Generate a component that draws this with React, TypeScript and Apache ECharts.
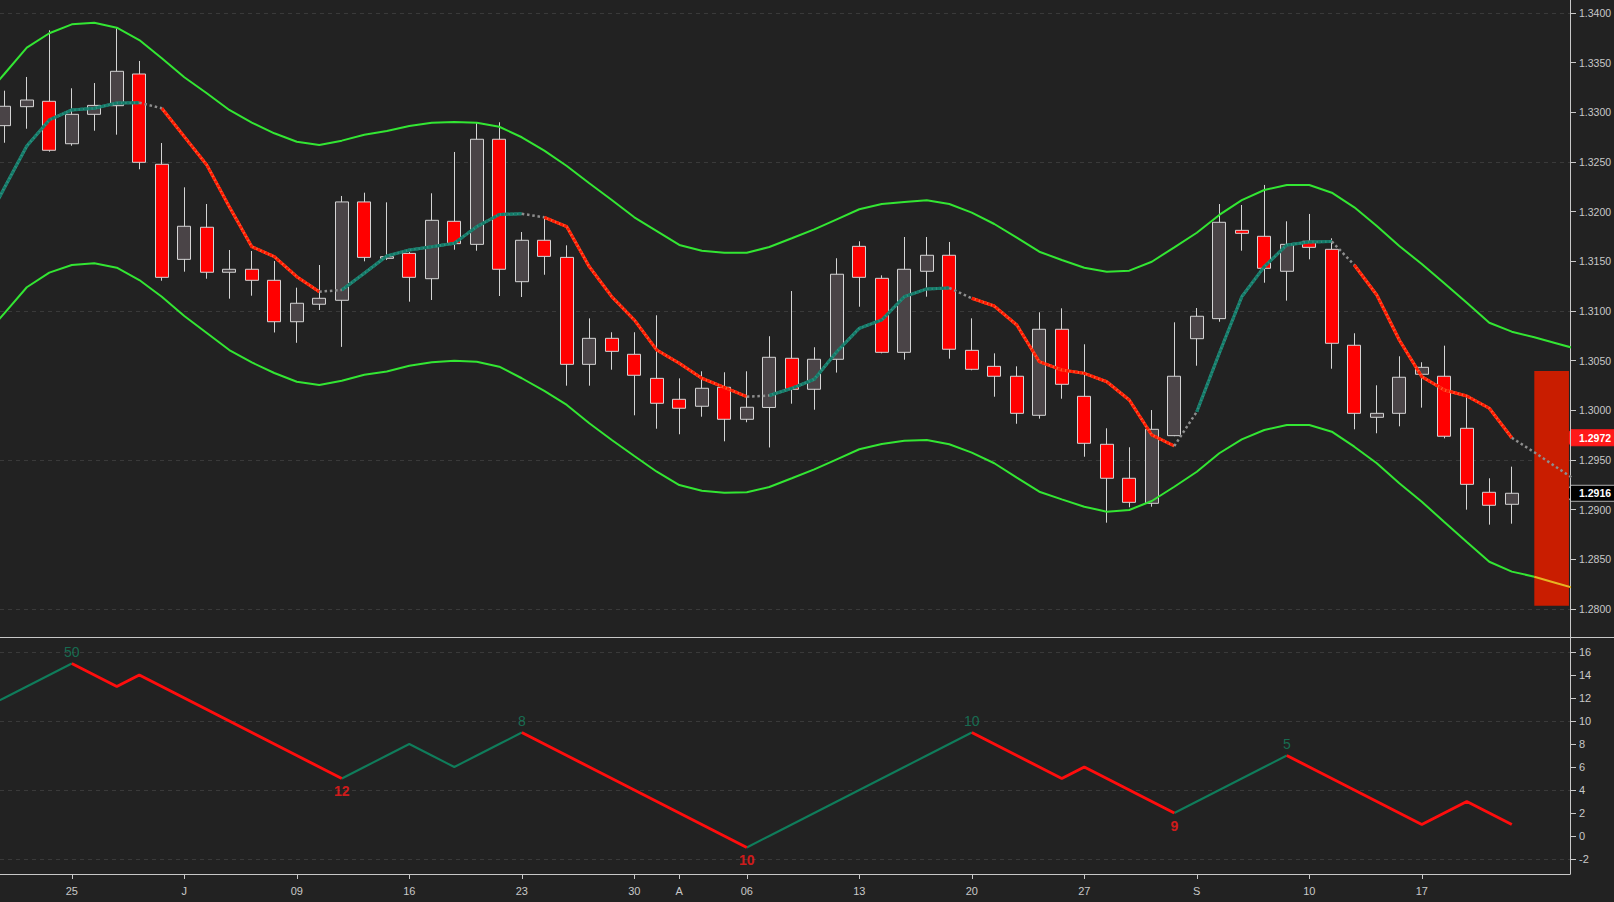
import React, { useEffect, useRef } from 'react';
import * as echarts from 'echarts';

const W = 1614;
const H = 902;
const BG = '#222222';
const AXIS = '#c8c8c8';
const TXT = '#c8c8c8';
const FONT = '"Liberation Sans", Arial, sans-serif';

// x-axis ticks (bar index -> label)
const tickBars = [3, 8, 13, 18, 23, 28, 30, 33, 38, 43, 48, 53, 58, 63];
const tickLabels = ['25', 'J', '09', '16', '23', '30', 'A', '06', '13', '20', '27', 'S', '10', '17'];

const priceTicks = [1.28, 1.285, 1.29, 1.295, 1.3, 1.305, 1.31, 1.315, 1.32, 1.325, 1.33, 1.335, 1.34];
const priceGridLines = [1.28, 1.295, 1.31, 1.325, 1.34];
const countTicks = [-2, 0, 2, 4, 6, 8, 10, 12, 14, 16];
const countGridLines = [-2, 4, 10, 16];

// daily candles, bars 0..67: [open, close, low, high]
const candles = [
  [1.32866, 1.33061, 1.32694, 1.33218],
  [1.33057, 1.33124, 1.32835, 1.33356],
  [1.33111, 1.32618, 1.32604, 1.33826],
  [1.32684, 1.3298, 1.32664, 1.33242],
  [1.3298, 1.3307, 1.32815, 1.33295],
  [1.33067, 1.33413, 1.32775, 1.33846],
  [1.33386, 1.32497, 1.32427, 1.33517],
  [1.32477, 1.31339, 1.31305, 1.32691],
  [1.3152, 1.31853, 1.31396, 1.32245],
  [1.31843, 1.3139, 1.31325, 1.32077],
  [1.3139, 1.3142, 1.31124, 1.31614],
  [1.3142, 1.31309, 1.31154, 1.31604],
  [1.31309, 1.30892, 1.30784, 1.31503],
  [1.30892, 1.31078, 1.3068, 1.31235],
  [1.31068, 1.31128, 1.3101, 1.31463],
  [1.31108, 1.32098, 1.30639, 1.32158],
  [1.32098, 1.3154, 1.315, 1.32191],
  [1.3153, 1.31547, 1.31513, 1.32094],
  [1.3158, 1.31339, 1.31094, 1.31594],
  [1.31325, 1.31913, 1.31111, 1.32185],
  [1.31903, 1.31678, 1.31617, 1.32601],
  [1.31671, 1.32729, 1.31607, 1.3289],
  [1.32729, 1.3142, 1.31151, 1.329],
  [1.31295, 1.31712, 1.31141, 1.31795],
  [1.31712, 1.3155, 1.31365, 1.31933],
  [1.3154, 1.30463, 1.30248, 1.31661],
  [1.30463, 1.30725, 1.30248, 1.30926],
  [1.30725, 1.30594, 1.30409, 1.30786],
  [1.30564, 1.30353, 1.2995, 1.30786],
  [1.30322, 1.30071, 1.29815, 1.30957],
  [1.30111, 1.30021, 1.29759, 1.30322],
  [1.30041, 1.30222, 1.29936, 1.30393],
  [1.30232, 1.2991, 1.29688, 1.30383],
  [1.2991, 1.30031, 1.2988, 1.30393],
  [1.30029, 1.30534, 1.29626, 1.30746],
  [1.30524, 1.30212, 1.30067, 1.31201],
  [1.30212, 1.30514, 1.30006, 1.30635],
  [1.30514, 1.3137, 1.3038, 1.31531],
  [1.31651, 1.31339, 1.31043, 1.31702],
  [1.31329, 1.30584, 1.30574, 1.31359],
  [1.30584, 1.3142, 1.3051, 1.31745],
  [1.314, 1.31561, 1.31144, 1.31745],
  [1.31561, 1.30615, 1.3052, 1.31695],
  [1.30604, 1.30413, 1.30403, 1.30926],
  [1.30443, 1.30343, 1.30137, 1.30574],
  [1.30343, 1.2997, 1.29865, 1.30443],
  [1.2995, 1.30816, 1.29916, 1.30987],
  [1.30816, 1.30262, 1.30117, 1.31027],
  [1.30141, 1.29668, 1.29533, 1.30665],
  [1.29658, 1.29316, 1.28869, 1.29819],
  [1.29316, 1.29074, 1.29024, 1.29628],
  [1.29064, 1.29809, 1.2903, 1.30003],
  [1.29745, 1.30343, 1.2974, 1.30886],
  [1.30721, 1.30947, 1.30449, 1.3103],
  [1.30923, 1.31893, 1.30892, 1.32077],
  [1.31812, 1.31782, 1.31607, 1.32067],
  [1.31752, 1.3143, 1.31285, 1.32269],
  [1.314, 1.31671, 1.31104, 1.31903],
  [1.31702, 1.31641, 1.3152, 1.31977],
  [1.31621, 1.30675, 1.30419, 1.31732],
  [1.30655, 1.2997, 1.29809, 1.30776],
  [1.2993, 1.2997, 1.29769, 1.30252],
  [1.2997, 1.30333, 1.29839, 1.30544],
  [1.30363, 1.30433, 1.30027, 1.30484],
  [1.30343, 1.29739, 1.29718, 1.30651],
  [1.29819, 1.29255, 1.29, 1.30131],
  [1.29175, 1.29044, 1.28849, 1.29316],
  [1.29054, 1.29165, 1.28859, 1.29433],
];
const LAST_BAR = 67;

// band / middle line values, bars -1..70 (68..70 projected)
const BAND_START = -1;
const upperBand = [
  1.33124, 1.33386, 1.33651, 1.33796, 1.33886, 1.33902, 1.33852, 1.33728, 1.33544, 1.33353,
  1.33192, 1.33024, 1.32896, 1.32789, 1.32704, 1.32671, 1.32715, 1.32775, 1.32812, 1.32862,
  1.32896, 1.32903, 1.32896, 1.32855, 1.32749, 1.32614, 1.3246, 1.32286, 1.32117, 1.31943,
  1.31805, 1.31665, 1.31607, 1.31587, 1.31587, 1.31644, 1.31732, 1.31822, 1.31923, 1.32024,
  1.32077, 1.32097, 1.32114, 1.32077, 1.3199, 1.31876, 1.31738, 1.31597, 1.31513, 1.31436,
  1.31396, 1.31406, 1.31496, 1.31641, 1.31788, 1.31967, 1.32117, 1.32218, 1.32268, 1.32268,
  1.32191, 1.32044, 1.31856, 1.31654, 1.31473, 1.31279, 1.31084, 1.30882, 1.30792, 1.30735,
  1.30673, 1.30611,
];
const lowerBand = [
  1.30718, 1.30977, 1.31239, 1.31386, 1.31463, 1.3148, 1.31436, 1.31312, 1.31144, 1.3095,
  1.30779, 1.30607, 1.30482, 1.30376, 1.30288, 1.30255, 1.30298, 1.30359, 1.30391, 1.30449,
  1.30484, 1.305, 1.3049, 1.30439, 1.30323, 1.30195, 1.30054, 1.2987, 1.29701, 1.2954,
  1.29382, 1.29248, 1.29191, 1.29171, 1.29175, 1.29228, 1.29316, 1.29406, 1.29507, 1.29608,
  1.29661, 1.29694, 1.29701, 1.29658, 1.29574, 1.29467, 1.29322, 1.29181, 1.29104, 1.2903,
  1.2898, 1.28997, 1.29087, 1.29231, 1.29382, 1.29568, 1.29708, 1.29802, 1.29852, 1.29852,
  1.29785, 1.29634, 1.29467, 1.29265, 1.2908, 1.28876, 1.28675, 1.28476, 1.28376, 1.28325,
  1.2826, 1.28195,
];
const midLine = [
  1.31805, 1.32238, 1.32661, 1.32923, 1.33024, 1.33041, 1.33094, 1.33097, 1.33041, 1.32755,
  1.3247, 1.3205, 1.31647, 1.31547, 1.31345, 1.31194, 1.31212, 1.3138, 1.31554, 1.31614,
  1.31647, 1.31682, 1.31849, 1.31972, 1.31979, 1.31943, 1.31849, 1.31446, 1.31144, 1.3091,
  1.30607, 1.30474, 1.30323, 1.30232, 1.30137, 1.30149, 1.30222, 1.30313, 1.3059, 1.30826,
  1.3091, 1.31144, 1.31222, 1.31232, 1.31128, 1.3105, 1.30859, 1.3049, 1.30406, 1.30373,
  1.30288, 1.30104, 1.29752, 1.29641, 1.29986, 1.30574, 1.31144, 1.31446, 1.31665, 1.31695,
  1.317, 1.31463, 1.31161, 1.30708, 1.30339, 1.30205, 1.30144, 1.30021, 1.29724, 1.29578,
  1.29425, 1.29272,
];
const LAST_PROJ_BAR = 70;

// projected range box
const rangeFromBar = 68;
const rangeToBar = 69.54;
const rangeTop = 1.30396;
const rangeBottom = 1.28033;

// lower panel: swing counter, bars -1..67
const COUNT_START = -1;
const swingCount = [
  11, 12, 13, 14, 15, 14, 13, 14, 13, 12, 11, 10, 9, 8, 7, 6, 5, 6, 7, 8, 7, 6, 7, 8, 9, 8, 7, 6, 5,
  4, 3, 2, 1, 0, -1, 0, 1, 2, 3, 4, 5, 6, 7, 8, 9, 8, 7, 6, 5, 6, 5, 4, 3, 2, 3, 4, 5, 6, 7, 6, 5,
  4, 3, 2, 1, 2, 3, 2, 1,
];
const swingPivots = [-1, 3, 15, 23, 33, 43, 52, 57, 67];
const peakBars = [3, 23, 43, 57];
const peakLabels = ['50', '8', '10', '5'];
const troughBars = [15, 33, 52];
const troughLabels = ['12', '10', '9'];

// axis ranges
const X_MIN = -0.191;
const X_MAX = 69.587;
const P_MIN = 1.277181;
const P_MAX = 1.341309;
const C_MIN = -3.304;
const C_MAX = 17.304;

const GREEN = '#33e633';
const TEAL = '#137a68';
const TEAL_BASE = '#2f8f7f';
const RED = '#ff1800';
const RED_BASE = '#ff5a30';
const GREY = '#8e8e8e';

function buildOption() {
  const n = midLine.length;
  const barAt = (k: number) => BAND_START + k;
  const dirs = midLine.map((v, k) =>
    k === 0 ? (midLine[1] >= midLine[0] ? 1 : -1) : v >= midLine[k - 1] ? 1 : -1
  );
  const segKind: string[] = [];
  for (let k = 0; k < n - 1; k++) {
    if (barAt(k + 1) > LAST_BAR) segKind.push('grey');
    else if (dirs[k] === dirs[k + 1]) segKind.push(dirs[k] > 0 ? 'up' : 'down');
    else segKind.push('grey');
  }
  const midPts = (kind: string) =>
    midLine.map((v, k) => {
      const inSeg = (k > 0 && segKind[k - 1] === kind) || (k < n - 1 && segKind[k] === kind);
      return [barAt(k), inSeg ? v : '-'];
    });

  const bandPts = (arr: number[], from: number, to: number) =>
    arr.map((v, k) => {
      const b = barAt(k);
      return [b, b >= from && b <= to ? v : '-'];
    });

  const legKind = (j: number) => (j % 2 === 0 ? 'up' : 'down');
  const swingPts = (kind: string) =>
    swingCount.map((v, k) => {
      const bar = COUNT_START + k;
      let inLeg = false;
      for (let j = 0; j < swingPivots.length - 1; j++) {
        if (legKind(j) === kind && bar >= swingPivots[j] && bar <= swingPivots[j + 1]) inLeg = true;
      }
      return [bar, inLeg ? v : '-'];
    });

  const lineBase = {
    type: 'line',
    showSymbol: false,
    symbol: 'none',
    smooth: false,
    silent: true,
    clip: true,
    xAxisIndex: 0,
    yAxisIndex: 0,
  };

  const candleData = candles.map((c, i) => [i, c[0], c[1], c[2], c[3]]);

  return {
    animation: false,
    backgroundColor: BG,
    textStyle: { fontFamily: FONT },
    grid: [
      { left: 0, top: 0, width: 1570, height: 637, containLabel: false, outerBoundsMode: 'none', show: false },
      { left: 0, top: 637, width: 1570, height: 237, containLabel: false, outerBoundsMode: 'none', show: false },
    ],
    xAxis: [
      {
        type: 'value', gridIndex: 0, min: X_MIN, max: X_MAX, show: false,
        splitLine: { show: false },
      },
      {
        type: 'value', gridIndex: 1, min: X_MIN, max: X_MAX, position: 'bottom',
        axisLine: { show: true, onZero: false, lineStyle: { color: AXIS, width: 1 } },
        axisTick: { show: true, length: 5, customValues: tickBars, lineStyle: { color: AXIS } },
        axisLabel: {
          show: true, customValues: tickBars, color: TXT, fontSize: 11, margin: 11, fontFamily: FONT,
          formatter: (v: number) => {
            const i = tickBars.indexOf(Math.round(v));
            return i >= 0 ? tickLabels[i] : '';
          },
        },
        splitLine: { show: false },
      },
    ],
    yAxis: [
      {
        type: 'value', gridIndex: 0, position: 'right', min: P_MIN, max: P_MAX,
        axisLine: { show: true, onZero: false, lineStyle: { color: AXIS, width: 1 } },
        axisTick: { show: true, length: 6, customValues: priceTicks, lineStyle: { color: AXIS } },
        axisLabel: {
          show: true, customValues: priceTicks, color: TXT, fontSize: 10.5, margin: 9, fontFamily: FONT,
          formatter: (v: number) => v.toFixed(4),
        },
        splitLine: { show: false },
      },
      {
        type: 'value', gridIndex: 1, position: 'right', min: C_MIN, max: C_MAX,
        axisLine: { show: true, onZero: false, lineStyle: { color: AXIS, width: 1 } },
        axisTick: { show: true, length: 6, customValues: countTicks, lineStyle: { color: AXIS } },
        axisLabel: {
          show: true, customValues: countTicks, color: TXT, fontSize: 11, margin: 9, fontFamily: FONT,
          formatter: (v: number) => String(Math.round(v)),
        },
        splitLine: { show: false },
      },
      {
        type: 'value', gridIndex: 0, position: 'right', min: P_MIN, max: P_MAX,
        axisLine: { show: false, onZero: false },
        axisTick: { show: false, customValues: priceGridLines },
        axisLabel: { show: false },
        splitLine: { show: true, lineStyle: { color: '#3a3a3a', width: 1, type: [4, 4] } },
      },
      {
        type: 'value', gridIndex: 1, position: 'right', min: C_MIN, max: C_MAX,
        axisLine: { show: false, onZero: false },
        axisTick: { show: false, customValues: countGridLines },
        axisLabel: { show: false },
        splitLine: { show: true, lineStyle: { color: '#3a3a3a', width: 1, type: [4, 4] } },
      },
    ],
    series: [
      {
        type: 'candlestick',
        xAxisIndex: 0,
        yAxisIndex: 0,
        barWidth: 13.5,
        silent: true,
        clip: true,
        data: candleData,
        itemStyle: {
          color: '#4a4447',
          color0: '#ff0000',
          borderColor: '#d4d4d4',
          borderColor0: '#d4d4d4',
          borderWidth: 1,
        },
        markArea: {
          silent: true,
          itemStyle: { color: '#c91d00', opacity: 1 },
          data: [[{ xAxis: rangeFromBar, yAxis: rangeTop }, { xAxis: rangeToBar, yAxis: rangeBottom }]],
        },
      },
      {
        ...lineBase,
        data: bandPts(upperBand, -1, LAST_PROJ_BAR),
        lineStyle: { color: GREEN, width: 2 },
      },
      {
        ...lineBase,
        data: bandPts(lowerBand, -1, 68),
        lineStyle: { color: GREEN, width: 2 },
      },
      {
        ...lineBase,
        data: bandPts(lowerBand, 68, LAST_PROJ_BAR),
        lineStyle: { color: '#e6b422', width: 2 },
      },
      { ...lineBase, data: midPts('up'), lineStyle: { color: TEAL_BASE, width: 3 } },
      { ...lineBase, data: midPts('up'), lineStyle: { color: TEAL, width: 3, type: [3, 1.3] } },
      { ...lineBase, data: midPts('down'), lineStyle: { color: RED_BASE, width: 3 } },
      { ...lineBase, data: midPts('down'), lineStyle: { color: RED, width: 3, type: [3, 1.3] } },
      { ...lineBase, data: midPts('grey'), lineStyle: { color: GREY, width: 2.5, type: [2.5, 2.8] } },
      {
        ...lineBase, xAxisIndex: 1, yAxisIndex: 1,
        data: swingPts('up'),
        lineStyle: { color: '#0f7d5b', width: 2 },
      },
      {
        ...lineBase, xAxisIndex: 1, yAxisIndex: 1,
        data: swingPts('down'),
        lineStyle: { color: '#ff0d0d', width: 3 },
      },
      {
        type: 'scatter', xAxisIndex: 1, yAxisIndex: 1, silent: true,
        symbolSize: 1, itemStyle: { color: 'rgba(0,0,0,0)' },
        data: peakBars.map((b, i) => ({
          value: [b, swingCount[b - COUNT_START]],
          label: { formatter: peakLabels[i] },
        })),
        label: { show: true, position: 'top', distance: 4, color: '#15805f', fontSize: 14, fontFamily: FONT },
      },
      {
        type: 'scatter', xAxisIndex: 1, yAxisIndex: 1, silent: true,
        symbolSize: 1, itemStyle: { color: 'rgba(0,0,0,0)' },
        data: troughBars.map((b, i) => ({
          value: [b, swingCount[b - COUNT_START]],
          label: { formatter: troughLabels[i] },
        })),
        label: {
          show: true, position: 'bottom', distance: 5, color: '#ff1a1a', fontSize: 14,
          fontWeight: 'bold', fontFamily: FONT,
        },
      },
    ],
  };
}

function priceTag(y: number, fill: string, stroke: string | null, text: string) {
  return {
    type: 'group',
    silent: true,
    z: 100,
    children: [
      {
        type: 'polygon',
        shape: {
          points: [
            [1565, y],
            [1571, y - 8],
            [W + 2, y - 8],
            [W + 2, y + 8],
            [1571, y + 8],
          ],
        },
        style: { fill, stroke: stroke || fill, lineWidth: 1 },
      },
      {
        type: 'text',
        x: 1579,
        y,
        style: {
          text,
          fill: '#ffffff',
          font: 'bold 10.5px "Liberation Sans", Arial, sans-serif',
          verticalAlign: 'middle',
          textVerticalAlign: 'middle',
        },
      },
    ],
  };
}

export default function App() {
  const ref = useRef<HTMLDivElement>(null);
  useEffect(() => {
    document.body.style.margin = '0';
    document.body.style.background = BG;
    const chart = echarts.init(ref.current as HTMLDivElement, null, { renderer: 'svg' });
    chart.setOption(buildOption() as any);
    const midLast = midLine[LAST_BAR - BAND_START];
    const closeLast = candles[LAST_BAR][1];
    const yMid = chart.convertToPixel({ yAxisIndex: 0 } as any, midLast) as unknown as number;
    const yClose = chart.convertToPixel({ yAxisIndex: 0 } as any, closeLast) as unknown as number;
    chart.setOption({
      graphic: [
        {
          type: 'line',
          silent: true,
          z: 50,
          shape: { x1: 0, y1: 637.5, x2: W, y2: 637.5 },
          style: { stroke: AXIS, lineWidth: 1 },
        },
        priceTag(yMid, '#ff1a1a', null, midLast.toFixed(4)),
        priceTag(yClose, '#000000', '#b0b0b0', closeLast.toFixed(4)),
      ],
    } as any);
    return () => chart.dispose();
  }, []);
  return (
    <div
      ref={ref}
      style={{ position: 'absolute', left: 0, top: 0, width: W, height: H, background: BG }}
    />
  );
}
